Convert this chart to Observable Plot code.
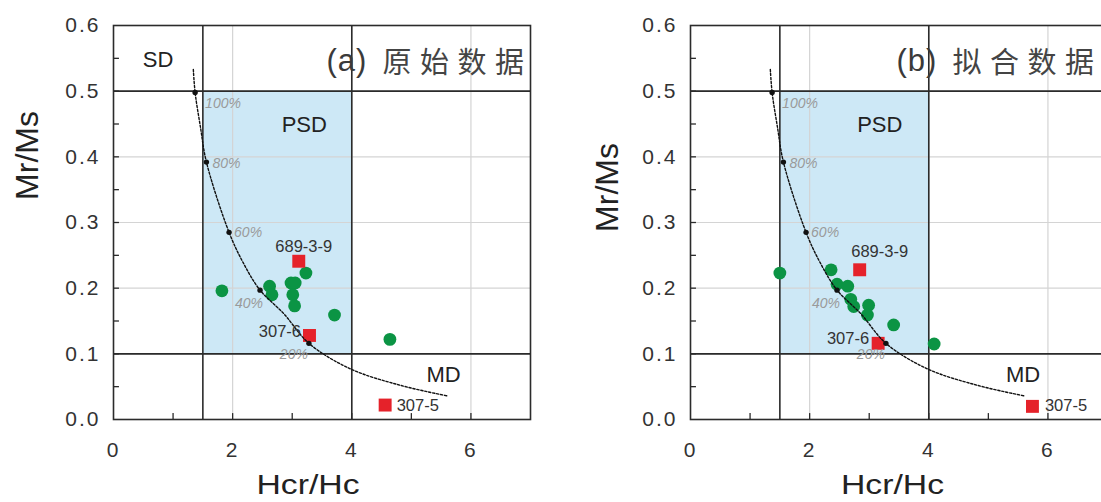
<!DOCTYPE html>
<html>
<head>
<meta charset="utf-8">
<script src="https://cdn.jsdelivr.net/npm/d3@7"></script>
<script src="https://cdn.jsdelivr.net/npm/@observablehq/plot@0.6"></script>
<style>
  html, body { margin: 0; padding: 0; background: #fff; overflow: hidden; }
  #chart { position: relative; width: 1101px; height: 502px; overflow: hidden; background: #fff; }
  .panel { position: absolute; top: 0; width: 560px; height: 502px; }
  .panel svg { max-width: none !important; display: block; }
</style>
</head>
<body>
<div id="chart">
  <div class="panel" id="panel-a" style="left:0px"></div>
  <div class="panel" id="panel-b" style="left:577px"></div>
</div>
<script>
// ---- Day plot axes ----
const xTicks = [0, 2, 4, 6];
const xMinorTicks = [1, 2, 3, 4, 5, 6];
const yTicks = [0, 0.1, 0.2, 0.3, 0.4, 0.5, 0.6];
const yTickLabels = ["0.0", "0.1", "0.2", "0.3", "0.4", "0.5", "0.6"];
const yMinorTicks = [0.05, 0.1, 0.15, 0.2, 0.25, 0.3, 0.35, 0.4, 0.45, 0.5, 0.55];
const xGrid = [2, 4, 6];
const yGrid = [0.1, 0.2, 0.3, 0.4, 0.5];
const xTitle = "Hcr/Hc";
const yTitle = "Mr/Ms";

// ---- Domain boundaries (SD / PSD / MD) ----
const hcrHcLimits = [1.5, 4];
const mrMsLimits = [0.1, 0.5];
const domainNames = ["SD", "PSD", "MD"];

// ---- SD–MD mixing curve ----
const mixCurveX = [1.34, 1.37, 1.46, 1.56, 1.94, 2.17, 2.46, 2.86, 3.28, 3.98, 4.82, 5.60];
const mixCurveY = [0.533, 0.498, 0.445, 0.392, 0.285, 0.240, 0.197, 0.161, 0.116, 0.077, 0.052, 0.036];
const mixPct = ["100%", "80%", "60%", "40%", "20%"];
const mixPctX = [1.37, 1.56, 1.94, 2.46, 3.28];
const mixPctY = [0.498, 0.392, 0.285, 0.197, 0.116];

// ---- Panel (a): original data ----
const rawSampleX = [1.82, 2.62, 2.66, 2.98, 3.05, 3.01, 3.04, 3.23, 3.71, 4.64];
const rawSampleY = [0.196, 0.203, 0.190, 0.208, 0.208, 0.190, 0.173, 0.223, 0.159, 0.122];
const rawRefNames = ["689-3-9", "307-6", "307-5"];
const rawRefX = [3.11, 3.29, 4.56];
const rawRefY = [0.241, 0.128, 0.022];

// ---- Panel (b): fitted data ----
const fitSampleX = [1.50, 2.36, 2.46, 2.64, 2.69, 2.74, 2.99, 2.97, 3.41, 4.09];
const fitSampleY = [0.223, 0.228, 0.206, 0.203, 0.183, 0.172, 0.174, 0.159, 0.144, 0.115];
const fitRefNames = ["689-3-9", "307-6", "307-5"];
const fitRefX = [2.84, 3.15, 5.74];
const fitRefY = [0.228, 0.116, 0.020];

const panelTags = ["(a)", "(b)"];
const panelTitles = ["原始数据", "拟合数据"];

// ---- drawing ----
const INK = "#2b2b2b";
const FONT = "'Liberation Sans', Arial, Helvetica, sans-serif";
const CJK = "'Noto Sans CJK SC', 'Noto Sans CJK JP', sans-serif";

// label placement for the mixing-curve percentages
const pctPlace = [
  {textAnchor: "start", dx: 10, dy: 11},
  {textAnchor: "start", dx: 6, dy: 1},
  {textAnchor: "start", dx: 5, dy: 0},
  {textAnchor: "end", dx: 3, dy: 13},
  {textAnchor: "end", dx: -1, dy: 11.5}
];

function drawPanel(p) {
  const curve = mixCurveX.map((x, i) => ({x, y: mixCurveY[i]}));
  const pct = mixPct.map((t, i) => ({t, x: mixPctX[i], y: mixPctY[i]}));
  const samples = p.sx.map((x, i) => ({x, y: p.sy[i]}));
  const refs = p.names.map((n, i) => ({n, x: p.rx[i], y: p.ry[i]}));

  const marks = [
    // PSD box
    Plot.rect([hcrHcLimits], {x1: d => d[0], x2: d => d[1], y1: mrMsLimits[0], y2: mrMsLimits[1], fill: "#cde8f6"}),
    // light grid
    Plot.ruleX(xGrid, {stroke: "#d4d4d4", strokeWidth: 1.2}),
    Plot.ruleY(yGrid, {stroke: "#d4d4d4", strokeWidth: 1.2}),
    // domain boundaries
    Plot.ruleX(hcrHcLimits, {stroke: INK, strokeWidth: 1.6}),
    Plot.ruleY(mrMsLimits, {stroke: INK, strokeWidth: 1.6}),
    // inward ticks
    Plot.ruleY(yMinorTicks, {y: d => d, x1: 0, x2: 0.1, stroke: INK, strokeWidth: 1.3}),
    Plot.ruleX(xMinorTicks, {x: d => d, y1: 0, y2: 0.009, stroke: INK, strokeWidth: 1.3}),
    // samples
    Plot.dot(samples, {x: "x", y: "y", r: 6.4, fill: "#0b9444"}),
    Plot.dot(refs, {x: "x", y: "y", symbol: "square", r: 7.3, fill: "#e5222a"}),
    // mixing curve
    Plot.line(curve, {x: "x", y: "y", curve: "catmull-rom", stroke: "#111", strokeWidth: 1.4, strokeDasharray: "2.2,1.8"}),
    Plot.dot(pct, {x: "x", y: "y", r: 2.7, fill: "#111"}),
    ...pct.map((d, i) => Plot.text([d], {
      x: "x", y: "y", text: "t", ...pctPlace[i], lineAnchor: "middle",
      fontSize: 14, fontStyle: "italic", fill: "#9a9a9a"
    })),
    // reference sample labels
    ...refs.map((d, i) => Plot.text([d], {
      x: "x", y: "y", text: "n", ...p.refPlace[i], lineAnchor: "middle",
      fontSize: 16.5, fill: "#333"
    })),
    // domain names
    ...(p.showSD ? [Plot.text([domainNames[0]], {text: d => d, frameAnchor: "top-left", dx: 44.5, dy: 34, textAnchor: "middle", lineAnchor: "middle", fontSize: 22, fill: "#222"})] : []),
    Plot.text([domainNames[1]], {text: d => d, frameAnchor: "top-left", dx: p.psdDx, dy: 99.5, textAnchor: "middle", lineAnchor: "middle", fontSize: 22, fill: "#222"}),
    Plot.text([domainNames[2]], {text: d => d, frameAnchor: "top-left", dx: p.mdDx, dy: 349, textAnchor: "middle", lineAnchor: "middle", fontSize: 22, fill: "#222"}),
    // panel title
    Plot.text([p.tag], {text: d => d, frameAnchor: "top-left", dx: p.tagDx, dy: 36, textAnchor: "start", lineAnchor: "middle", fontSize: 31, fill: "#3a3a3a"}),
    Plot.text([p.title], {text: d => d, frameAnchor: "top-left", dx: p.tagDx + 56, dy: 38.5, textAnchor: "start", lineAnchor: "middle", fontSize: 29, fontFamily: CJK, fill: "#444"}),
    // axes
    Plot.axisX(xTicks, {tickSize: 0, tickPadding: 23, fontSize: 21, fill: "#333", label: null}),
    Plot.axisY(yTicks, {tickSize: 0, tickPadding: 13, fontSize: 21, fill: "#333", label: null,
      tickFormat: d => yTickLabels[yTicks.indexOf(d)]}),
    Plot.text([xTitle], {text: d => d, frameAnchor: "bottom-left", dx: p.xTitleDx, dy: 66, textAnchor: "middle", lineAnchor: "middle", fontSize: 27, fill: "#222"}),
    Plot.text([yTitle], {text: d => d, frameAnchor: "left", dx: p.yTitleDx, dy: p.yTitleDy, rotate: -90, textAnchor: "middle", lineAnchor: "middle", fontSize: 32, fill: "#222"}),
    Plot.frame({stroke: INK, strokeWidth: 1.6})
  ];

  const svg = Plot.plot({
    width: 560,
    height: 502,
    marginLeft: 113,
    marginRight: 30,
    marginTop: 25,
    marginBottom: 83,
    x: {domain: [0, 7]},
    y: {domain: [0, 0.6]},
    style: {fontFamily: FONT, background: "transparent", overflow: "visible", maxWidth: "none"},
    marks
  });

  document.getElementById(p.target).appendChild(svg);

  // spacing of tick labels and titles; the axis title is drawn a little wider
  svg.querySelectorAll("text").forEach(t => {
    const s = t.textContent;
    const g = t.closest("g");
    const aria = g ? (g.getAttribute("aria-label") || "") : "";
    if (aria.endsWith("tick label")) t.style.letterSpacing = "2px";
    if (s === xTitle) {
      const w = t.getComputedTextLength();
      t.setAttribute("textLength", (w * 1.25).toFixed(1));
      t.setAttribute("lengthAdjust", "spacingAndGlyphs");
    }
    if (panelTitles.includes(s)) {
      // open the characters out without a trailing gap after the last one
      const w = t.getComputedTextLength();
      t.setAttribute("textLength", (w + 3 * 8.5).toFixed(1));
      t.setAttribute("lengthAdjust", "spacing");
    }
    if (panelTags.includes(s)) t.style.letterSpacing = "1px";
  });
}

drawPanel({
  target: "panel-a",
  sx: rawSampleX, sy: rawSampleY,
  names: rawRefNames, rx: rawRefX, ry: rawRefY,
  refPlace: [
    {textAnchor: "middle", dx: 5, dy: -14.5},
    {textAnchor: "end", dx: -8.5, dy: -3.3},
    {textAnchor: "start", dx: 11.5, dy: 0.7}
  ],
  showSD: true,
  psdDx: 190.8, mdDx: 330,
  tag: panelTags[0], title: panelTitles[0], tagDx: 213,
  xTitleDx: 194.5, yTitleDx: -86, yTitleDy: -67
});

drawPanel({
  target: "panel-b",
  sx: fitSampleX, sy: fitSampleY,
  names: fitRefNames, rx: fitRefX, ry: fitRefY,
  refPlace: [
    {textAnchor: "middle", dx: 20, dy: -18},
    {textAnchor: "end", dx: -9, dy: -4.5},
    {textAnchor: "start", dx: 12.5, dy: -0.7}
  ],
  showSD: false,
  psdDx: 189.3, mdDx: 332.5,
  tag: panelTags[1], title: panelTitles[1], tagDx: 206,
  xTitleDx: 202, yTitleDx: -83, yTitleDy: -35
});
</script>
</body>
</html>
